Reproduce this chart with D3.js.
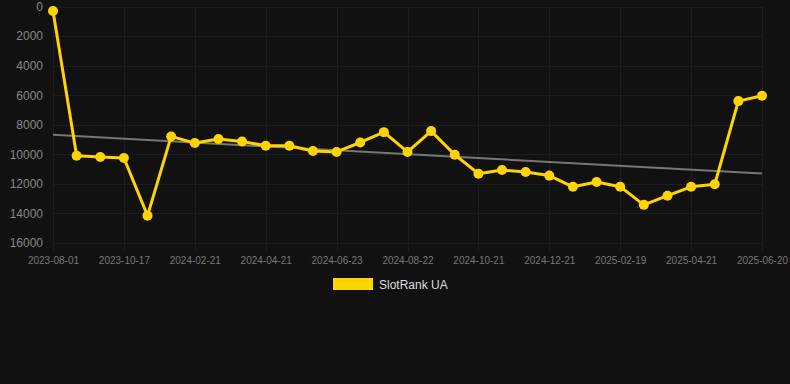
<!DOCTYPE html>
<html lang="en">
  <head>
    <meta charset="utf-8" />
    <title>SlotRank UA</title>
    <script src="https://cdn.jsdelivr.net/npm/d3@7"></script>
    <style>
      html, body { margin: 0; padding: 0; background: #111111; }
      svg { display: block; font-family: "Liberation Sans", Arial, Helvetica, sans-serif; }
    </style>
  </head>
  <body>
    <script>
      // Data
      var dates = [
        "2023-08-01", "2023-08-27", "2023-09-22", "2023-10-17", "2023-11-20",
        "2024-01-22", "2024-02-21", "2024-03-12", "2024-04-01", "2024-04-21",
        "2024-05-12", "2024-06-02", "2024-06-23", "2024-07-13", "2024-08-02",
        "2024-08-22", "2024-09-11", "2024-10-01", "2024-10-21", "2024-11-10",
        "2024-12-01", "2024-12-21", "2025-01-10", "2025-01-30", "2025-02-19",
        "2025-03-11", "2025-04-01", "2025-04-21", "2025-05-11", "2025-05-31",
        "2025-06-20"
      ];
      var ranks = [
        300, 10100, 10180, 10250, 14150, 8790, 9240, 8970, 9130, 9420,
        9420, 9780, 9840, 9200, 8500, 9840, 8430, 10030, 11310, 11060,
        11200, 11440, 12200, 11870, 12190, 13420, 12800, 12200, 12030, 6400,
        6040
      ];
      var yTicks = [0, 2000, 4000, 6000, 8000, 10000, 12000, 14000, 16000];
      var seriesName = "SlotRank UA";

      var w = 790, h = 384;
      var mLeft = 53, mRight = 762, mTop = 6.5, mBottom = 243;
      var yellow = "#ffd400";
      var gridColor = "#1d1d1d";

      var svg = d3.select("body").append("svg")
        .attr("width", w).attr("height", h);

      var x = d3.scalePoint().domain(dates).range([mLeft, mRight]);
      var y = d3.scaleLinear().domain([0, 16000]).range([mTop, mBottom]);

      var xTickVals = dates.filter(function (d, i) { return i % 3 === 0; });

      // grid
      svg.append("g").selectAll("line").data(yTicks).enter().append("line")
        .attr("x1", mLeft).attr("x2", mRight)
        .attr("y1", function (d) { return Math.round(y(d)) + 0.5; })
        .attr("y2", function (d) { return Math.round(y(d)) + 0.5; })
        .attr("stroke", gridColor).attr("stroke-width", 1);

      svg.append("g").selectAll("line").data(xTickVals).enter().append("line")
        .attr("x1", function (d) { return Math.round(x(d)) + 0.5; })
        .attr("x2", function (d) { return Math.round(x(d)) + 0.5; })
        .attr("y1", mTop).attr("y2", mBottom + 8)
        .attr("stroke", gridColor).attr("stroke-width", 1);

      // axes labels
      var yAxis = svg.append("g")
        .attr("transform", "translate(" + (mLeft - 10) + ",0)")
        .call(d3.axisLeft(y).tickValues(yTicks).tickSize(0).tickFormat(d3.format("d")));
      yAxis.select(".domain").remove();
      yAxis.selectAll("text").attr("fill", "#888888").attr("font-size", "12px")
        .attr("x", 0).attr("font-family", "Liberation Sans, Arial, sans-serif");

      var xAxis = svg.append("g")
        .attr("transform", "translate(0," + (mBottom + 11) + ")")
        .call(d3.axisBottom(x).tickValues(xTickVals).tickSize(0));
      xAxis.select(".domain").remove();
      xAxis.selectAll("text").attr("fill", "#777777").attr("font-size", "10px")
        .attr("font-family", "Liberation Sans, Arial, sans-serif");

      // trend line (least squares over index)
      var n = ranks.length;
      var mx = d3.mean(d3.range(n)), my = d3.mean(ranks);
      var sxy = d3.sum(ranks, function (v, i) { return (i - mx) * (v - my); });
      var sxx = d3.sum(d3.range(n), function (i) { return (i - mx) * (i - mx); });
      var slope = sxy / sxx, icept = my - slope * mx;
      svg.append("line")
        .attr("x1", x(dates[0])).attr("y1", y(icept))
        .attr("x2", x(dates[n - 1])).attr("y2", y(icept + slope * (n - 1)))
        .attr("stroke", "#777777").attr("stroke-width", 2);

      // series
      var line = d3.line()
        .x(function (d, i) { return x(dates[i]); })
        .y(function (d) { return y(d); });
      svg.append("path").datum(ranks)
        .attr("d", line).attr("fill", "none")
        .attr("stroke", yellow).attr("stroke-width", 3)
        .attr("stroke-linejoin", "round");

      svg.append("g").selectAll("circle").data(ranks).enter().append("circle")
        .attr("cx", function (d, i) { return x(dates[i]); })
        .attr("cy", function (d) { return y(d); })
        .attr("r", 5).attr("fill", yellow);

      // legend
      var lg = svg.append("g").attr("transform", "translate(333,278)");
      lg.append("rect").attr("width", 40).attr("height", 12)
        .attr("fill", yellow);
      lg.append("text").attr("x", 46).attr("y", 10.5)
        .attr("fill", "#dddddd").attr("font-size", "12px")
        .text(seriesName);
    </script>
  </body>
</html>
